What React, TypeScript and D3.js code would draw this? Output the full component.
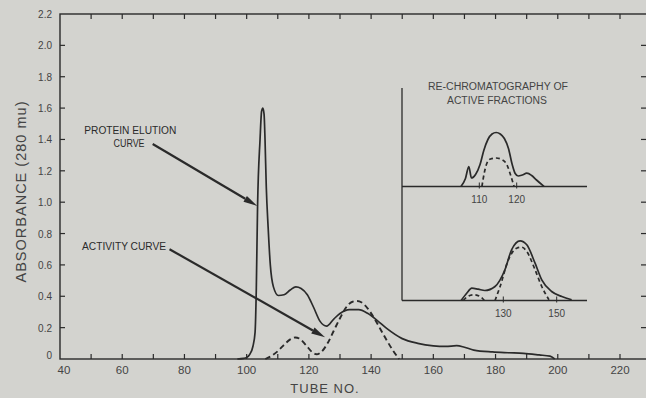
import React from "react";
import * as d3 from "d3";

// ---------- data ----------
const xTicksLabeled = [40, 60, 80, 100, 120, 140, 160, 180, 200, 220];
const xTicksMinor = [50, 70, 90, 110, 130, 150, 170, 190, 210];
const yTicks = [0, 0.2, 0.4, 0.6, 0.8, 1.0, 1.2, 1.4, 1.6, 1.8, 2.0, 2.2];

// protein elution (solid): [tube, absorbance]
const proteinTube = [97, 99, 100, 101, 102, 102.7, 103.1, 103.5, 104.3, 104.8, 105.2, 105.6, 105.9, 106.3, 106.9, 107.6, 108.6, 110.2, 112, 114, 115.8, 117.5, 119.5, 121.5, 123.6, 125.7, 128, 130, 133, 136, 139, 142, 145, 150, 155, 160, 164, 167.5, 170, 173, 179, 184, 189, 194, 197.5, 199];
const proteinAbs = [0, 0.004, 0.01, 0.03, 0.08, 0.17, 0.45, 0.97, 1.4, 1.58, 1.6, 1.56, 1.4, 1.1, 0.84, 0.6, 0.46, 0.405, 0.41, 0.44, 0.46, 0.45, 0.41, 0.33, 0.24, 0.21, 0.255, 0.29, 0.315, 0.315, 0.29, 0.245, 0.195, 0.13, 0.1, 0.084, 0.08, 0.085, 0.075, 0.057, 0.045, 0.04, 0.036, 0.026, 0.018, 0];

// activity (dashed)
const activityTube = [106, 108, 110, 112, 114, 115.6, 117, 119, 121, 122.5, 124, 126, 128, 130, 132, 134, 135.5, 137, 139, 141, 143, 145, 147, 149];
const activityAbs = [0, 0.02, 0.05, 0.09, 0.125, 0.137, 0.13, 0.09, 0.045, 0.03, 0.045, 0.1, 0.18, 0.26, 0.33, 0.365, 0.37, 0.36, 0.32, 0.26, 0.19, 0.12, 0.055, 0];

// inset A (re-chromatography, upper)
const insetATicks = [110, 120];
const insetASolidTube = [105.1, 106.3, 107.2, 107.9, 109, 110.2, 111.2, 112.3, 113.4, 114.5, 115.6, 116.7, 117.8, 118.8, 119.6, 120.4, 121.5, 122.7, 124, 125.3, 127.3];
const insetASolidVal = [0, 0.08, 0.2, 0.085, 0.12, 0.22, 0.36, 0.47, 0.525, 0.54, 0.525, 0.48, 0.38, 0.22, 0.13, 0.105, 0.115, 0.133, 0.11, 0.065, 0];
const insetADashTube = [110.7, 111.3, 112, 113, 114.5, 116, 117.4, 118.4, 119.3];
const insetADashVal = [0, 0.13, 0.23, 0.275, 0.285, 0.27, 0.215, 0.11, 0];

// inset B (re-chromatography, lower)
const insetBTicks = [130, 150];
const insetBSolidTube = [114.2, 116.3, 118.2, 120.6, 123.1, 126.9, 130.6, 133.1, 136.3, 138.8, 141.9, 144.4, 148.1, 151.9, 155.6];
const insetBSolidVal = [0, 0.073, 0.123, 0.113, 0.1, 0.14, 0.307, 0.507, 0.597, 0.557, 0.373, 0.207, 0.09, 0.04, 0.007];
const insetBDashTube = [115, 116.3, 118.8, 121.3, 122.9, NaN, 126.9, 128.8, 131.9, 135, 136.9, 138.8, 141.9, 144.4, 147.1];
const insetBDashVal = [0, 0.033, 0.057, 0.04, 0, NaN, 0, 0.14, 0.407, 0.523, 0.533, 0.49, 0.307, 0.14, 0.007];

// annotations [tube, abs]
const proteinArrow = [[69.8, 1.371], [103.4, 0.976]];
const activityArrow = [[75.2, 0.7], [125.2, 0.138]];

// ---------- layout ----------
const W = 646;
const H = 398;
const bg = "#d3d3cf";
const ink = "#2a2a2a";
const txt = "#444";
const font = "'Liberation Sans', Arial, sans-serif";

const x = d3.scaleLinear().domain([40, 220]).range([60, 620]);
const y = d3.scaleLinear().domain([0, 2.2]).range([359, 14]);
const plotRight = 648;

const insetLeft = 402;
const insetRight = 587;
const xa = d3.scaleLinear().domain([110, 120]).range([479.3, 516.7]);
const ya = d3.scaleLinear().domain([0, 1]).range([186.5, 86.5]);
const xb = d3.scaleLinear().domain([130, 150]).range([503.3, 556.7]);
const yb = d3.scaleLinear().domain([0, 1]).range([300.5, 200.5]);

function mkLine(xs: any, ys: any, tubes: number[], vals: number[], curve: any = d3.curveMonotoneX) {
  const pts = tubes.map((t, i) => [t, vals[i]] as [number, number]);
  return d3
    .line<[number, number]>()
    .defined((d) => !isNaN(d[0]))
    .x((d) => xs(d[0]))
    .y((d) => ys(d[1]))
    .curve(curve)(pts) as string;
}

function Arrow({ pts }: { pts: number[][] }) {
  const x1 = x(pts[0][0]);
  const y1 = y(pts[0][1]);
  const x2 = x(pts[1][0]);
  const y2 = y(pts[1][1]);
  const ang = Math.atan2(y2 - y1, x2 - x1);
  const L = 14;
  const Wd = 3.4;
  const bx = x2 - L * Math.cos(ang);
  const by = y2 - L * Math.sin(ang);
  const px = -Math.sin(ang) * Wd;
  const py = Math.cos(ang) * Wd;
  return (
    <g>
      <line x1={x1} y1={y1} x2={bx} y2={by} stroke={ink} strokeWidth={2.2} />
      <polygon points={`${x2},${y2} ${bx + px},${by + py} ${bx - px},${by - py}`} fill={ink} />
    </g>
  );
}

export default function App() {
  const proteinPath = mkLine(x, y, proteinTube, proteinAbs);
  const activityPath = mkLine(x, y, activityTube, activityAbs);
  const aSolid = mkLine(xa, ya, insetASolidTube, insetASolidVal);
  const aDash = mkLine(xa, ya, insetADashTube, insetADashVal);
  const bSolid = mkLine(xb, yb, insetBSolidTube, insetBSolidVal);
  const bDash = mkLine(xb, yb, insetBDashTube, insetBDashVal);

  return (
    <div style={{ position: "fixed", left: 0, top: 0, width: W, height: H }}>
      <svg width={W} height={H} style={{ display: "block" }} fontFamily={font}>
        <rect x={0} y={0} width={W} height={H} fill={bg} />

        {/* frame */}
        <rect x={x(40)} y={y(2.2)} width={plotRight - x(40)} height={y(0) - y(2.2)} fill="none" stroke={ink} strokeWidth={1.4} />

        {/* x ticks */}
        {[...xTicksLabeled, ...xTicksMinor].map((t) =>
          t > 40 ? (
            <g key={"xt" + t}>
              <line x1={x(t)} x2={x(t)} y1={y(0)} y2={y(0) - 5} stroke={ink} strokeWidth={1.2} />
              <line x1={x(t)} x2={x(t)} y1={y(2.2)} y2={y(2.2) + 5} stroke={ink} strokeWidth={1.2} />
            </g>
          ) : null
        )}
        {xTicksLabeled.map((t) => (
          <text key={"xl" + t} x={x(t) + (t === 40 ? 4 : 0)} y={y(0) + 15} textAnchor="middle" fontSize={11.5} fill={txt}>
            {t}
          </text>
        ))}

        {/* y ticks */}
        {yTicks.map((t) => (
          <g key={"yt" + t}>
            {t > 0 && t < 2.2 ? (
              <>
                <line x1={x(40)} x2={x(40) + 5} y1={y(t)} y2={y(t)} stroke={ink} strokeWidth={1.2} />
                <line x1={plotRight - 7} x2={plotRight} y1={y(t)} y2={y(t)} stroke={ink} strokeWidth={1.2} />
              </>
            ) : null}
            <text x={52} y={y(t) + (t === 0 ? 0 : 4)} textAnchor="end" fontSize={10} fill={txt}>
              {t === 0 ? "0" : t.toFixed(1)}
            </text>
          </g>
        ))}

        {/* axis titles */}
        <text x={325} y={393} textAnchor="middle" fontSize={13} fill={txt} letterSpacing={1}>
          TUBE NO.
        </text>
        <text
          transform="translate(26,192) rotate(-90)"
          textAnchor="middle"
          fontSize={14.5}
          fill={txt}
          textLength={181}
          lengthAdjust="spacing"
        >
          ABSORBANCE (280 mu)
        </text>

        {/* curves */}
        <path d={proteinPath} fill="none" stroke={ink} strokeWidth={1.7} />
        <path d={activityPath} fill="none" stroke={ink} strokeWidth={1.9} strokeDasharray="5.5,3.5" />

        {/* annotations */}
        <text x={x(62.6)} y={y(1.435)} textAnchor="middle" fontSize={10} fill={ink} textLength={92} lengthAdjust="spacingAndGlyphs">
          PROTEIN ELUTION
        </text>
        <text x={x(62.2)} y={y(1.352)} textAnchor="middle" fontSize={10} fill={ink} textLength={31} lengthAdjust="spacingAndGlyphs">
          CURVE
        </text>
        <text x={x(60.6)} y={y(0.695)} textAnchor="middle" fontSize={10} fill={ink} textLength={84} lengthAdjust="spacingAndGlyphs">
          ACTIVITY CURVE
        </text>
        <Arrow pts={proteinArrow} />
        <Arrow pts={activityArrow} />

        {/* inset */}
        <text x={498} y={90} textAnchor="middle" fontSize={10} fill={txt} textLength={140} lengthAdjust="spacingAndGlyphs">
          RE-CHROMATOGRAPHY OF
        </text>
        <text x={497} y={104} textAnchor="middle" fontSize={10} fill={txt} textLength={100} lengthAdjust="spacingAndGlyphs">
          ACTIVE FRACTIONS
        </text>
        <line x1={insetLeft} x2={insetLeft} y1={88} y2={yb(0)} stroke={ink} strokeWidth={1.3} />
        <line x1={insetLeft} x2={insetRight} y1={ya(0)} y2={ya(0)} stroke={ink} strokeWidth={1.4} />
        <line x1={insetLeft} x2={insetRight} y1={yb(0)} y2={yb(0)} stroke={ink} strokeWidth={1.4} />
        {insetATicks.map((t) => (
          <g key={"ia" + t}>
            <line x1={xa(t)} x2={xa(t)} y1={ya(0) - 4} y2={ya(0) + 2} stroke={ink} strokeWidth={1} />
            <text x={xa(t)} y={ya(0) + 16} textAnchor="middle" fontSize={10} fill={txt}>
              {t}
            </text>
          </g>
        ))}
        {insetBTicks.map((t) => (
          <g key={"ib" + t}>
            <line x1={xb(t)} x2={xb(t)} y1={yb(0) - 4} y2={yb(0) + 2} stroke={ink} strokeWidth={1} />
            <text x={xb(t)} y={yb(0) + 16} textAnchor="middle" fontSize={10} fill={txt}>
              {t}
            </text>
          </g>
        ))}
        <path d={aSolid} fill="none" stroke={ink} strokeWidth={1.7} />
        <path d={aDash} fill="none" stroke={ink} strokeWidth={1.7} strokeDasharray="4,3" />
        <path d={bSolid} fill="none" stroke={ink} strokeWidth={1.7} />
        <path d={bDash} fill="none" stroke={ink} strokeWidth={1.7} strokeDasharray="4,3" />
      </svg>
    </div>
  );
}
